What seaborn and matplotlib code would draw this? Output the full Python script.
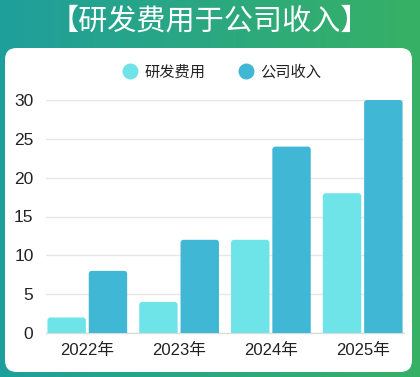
import numpy as np
import pandas as pd
import matplotlib
matplotlib.use("Agg")
import matplotlib.pyplot as plt
import seaborn as sns
from matplotlib.patches import FancyBboxPatch
from matplotlib.lines import Line2D
from matplotlib.colors import LinearSegmentedColormap

years = ["2022年", "2023年", "2024年", "2025年"]
series_names = ["研发费用", "公司收入"]
rd_cost = [2, 4, 12, 18]
revenue = [8, 12, 24, 30]
yticks = [0, 5, 10, 15, 20, 25, 30]
title = "【研发费用于公司收入】"

colors = ["#6EE4E8", "#41B7D6"]

sns.set_theme(style="white")
plt.rcParams['font.family'] = ['Noto Sans CJK SC', 'DejaVu Sans']
tick_family = ['Liberation Sans', 'Noto Sans CJK SC']

df = pd.DataFrame({
    "year": years * 2,
    "series": [series_names[0]] * 4 + [series_names[1]] * 4,
    "value": rd_cost + revenue,
})

W, H = 420, 377
fig = plt.figure(figsize=(W / 100, H / 100), dpi=100)

# gradient background
bg = fig.add_axes([0, 0, 1, 1], zorder=0)
grad = np.linspace(0, 1, 256).reshape(1, -1)
cmap = LinearSegmentedColormap.from_list("g", ["#1F9F9C", "#37B165"])
bg.imshow(grad, aspect="auto", cmap=cmap, extent=[0, 1, 0, 1])
bg.set_xlim(0, 1); bg.set_ylim(0, 1)
bg.axis("off")

# white panel
px0, px1, py0, py1 = 5, 412, 48, 372
panel = FancyBboxPatch((px0 / W, 1 - py1 / H), (px1 - px0) / W, (py1 - py0) / H,
                       boxstyle="round,pad=0,rounding_size=0.028",
                       mutation_aspect=W / H,
                       transform=bg.transAxes, facecolor="white", edgecolor="none")
bg.add_patch(panel)

bg.text(0.5, 1 - 22 / H, title, color="white", fontsize=21, fontweight="medium",
        ha="center", va="center", transform=bg.transAxes)

# chart axes
ax_l, ax_r, ax_top, ax_bot = 46, 404, 100, 333
ax = fig.add_axes([ax_l / W, 1 - ax_bot / H, (ax_r - ax_l) / W, (ax_bot - ax_top) / H], zorder=2)
ax.patch.set_alpha(0)

sns.barplot(data=df, x="year", y="value", hue="series", palette=colors,
            saturation=1, width=0.9, gap=0.07, ax=ax, legend=False, zorder=3)

# round the top corners of bars
px_x = 3.9 / (ax_r - ax_l)
px_y = 30 / (ax_bot - ax_top)
for p in list(ax.patches):
    x, y = p.get_x(), p.get_y()
    w, h = p.get_width(), p.get_height()
    fc = p.get_facecolor()
    p.remove()
    r = 3 * px_x
    nb = FancyBboxPatch((x, y - 4 * px_y), w, h + 4 * px_y,
                        boxstyle=f"round,pad=0,rounding_size={r}",
                        mutation_aspect=px_y / px_x,
                        facecolor=fc, edgecolor="none", zorder=3, clip_on=True)
    ax.add_patch(nb)

ax.set_xlim(-0.45, 3.45)
ax.set_ylim(0, 30)
ax.set_yticks(yticks)
ax.set_yticklabels([str(v) for v in yticks], family=tick_family)
ax.set_xticks(range(len(years)))
ax.set_xticklabels(years, family=tick_family)
ax.yaxis.grid(True, color="#E6E6E6", linewidth=1, zorder=0)
ax.set_axisbelow(True)
for s in ["top", "right", "left"]:
    ax.spines[s].set_visible(False)
ax.spines["bottom"].set_color("#DDDDDD")
ax.spines["bottom"].set_linewidth(1)
ax.tick_params(axis="y", length=0, pad=9, labelsize=12.5, labelcolor="#222222")
ax.tick_params(axis="x", length=0, pad=7, labelsize=12, labelcolor="#222222")
ax.set_xlabel("")
ax.set_ylabel("")

handles = [Line2D([0], [0], marker="o", linestyle="", markersize=11.5,
                  markerfacecolor=c, markeredgecolor="none") for c in colors]
fig.legend(handles, series_names, loc="center", bbox_to_anchor=(222 / W, 1 - 72 / H),
           ncol=2, frameon=False, fontsize=11, handletextpad=0.4, columnspacing=2.2,
           handlelength=1.0, labelcolor="#222222")

fig.savefig("out.png", dpi=100)
